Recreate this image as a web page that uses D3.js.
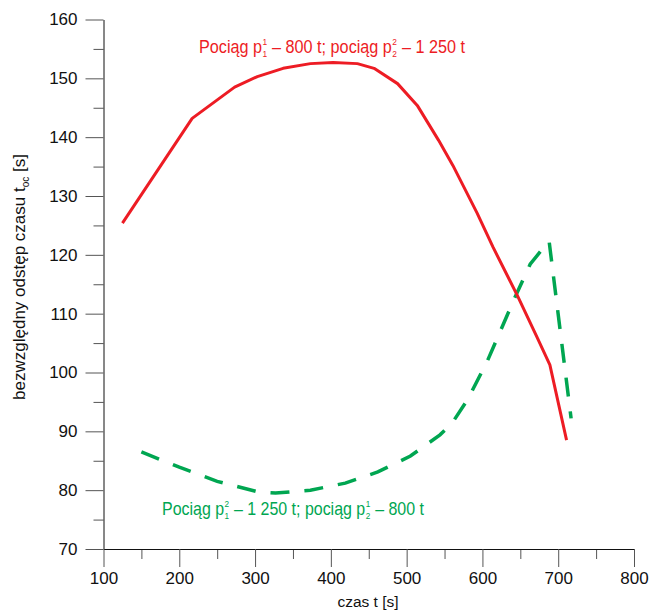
<!DOCTYPE html>
<html><head><meta charset="utf-8">
<script src="https://cdn.jsdelivr.net/npm/d3@7"></script>
<style>body{margin:0;background:#fff}svg{display:block}text{font-family:"Liberation Sans",Arial,sans-serif;white-space:pre}</style>
</head><body><svg id="c" width="652" height="612"></svg>
<script>
// data: [time t (s), absolute headway t_oc (s)]
const redTimes  = [125, 217, 273, 303, 337, 373, 403, 435, 457, 488, 514, 542, 561, 593, 614, 646, 672, 689, 711];
const redValues = [125.4, 143.2, 148.5, 150.3, 151.7, 152.5, 152.7, 152.5, 151.7, 149.1, 145.4, 139.5, 135.2, 127.1, 121.3, 113.1, 106.0, 101.3, 88.5];
const greenTimes  = [150, 200, 250, 304, 327, 373, 419, 462, 505, 544, 560, 580, 606, 643, 663, 678, 688, 717];
const greenValues = [86.5, 83.9, 81.5, 79.7, 79.5, 80.0, 81.2, 83.1, 85.8, 89.4, 91.4, 95.3, 101.8, 112.8, 118.4, 120.8, 122.3, 92.2];
const xTicks = [100, 200, 300, 400, 500, 600, 700, 800];
const yTicks = [70, 80, 90, 100, 110, 120, 130, 140, 150, 160];
const xMinor = [150, 250, 350, 450, 550, 650, 750];
const yMinor = [75, 85, 95, 105, 115, 125, 135, 145, 155];

const svg = d3.select("#c");
const x = d3.scaleLinear().domain([100, 800]).range([103.5, 634]);
const y = d3.scaleLinear().domain([70, 160]).range([549, 19.5]);
const RED = "#ed1c24", GREEN = "#00a651";

// minor ticks
svg.append("g").attr("transform", "translate(0,549)")
  .call(d3.axisBottom(x).tickValues(xMinor).tickSize(10).tickFormat("").tickSizeOuter(0))
  .call(g => g.select(".domain").remove())
  .call(g => g.selectAll("line").attr("stroke", "#555"));
svg.append("g").attr("transform", "translate(103.5,0)")
  .call(d3.axisLeft(y).tickValues(yMinor).tickSize(10).tickFormat("").tickSizeOuter(0))
  .call(g => g.select(".domain").remove())
  .call(g => g.selectAll("line").attr("stroke", "#555"));

// major axes
const gx = svg.append("g").attr("transform", "translate(0,549)")
  .call(d3.axisBottom(x).tickValues(xTicks).tickSize(18).tickSizeOuter(0).tickPadding(5));
gx.selectAll("text").attr("font-size", 17).attr("fill", "#111").attr("font-family", "Liberation Sans, Arial, sans-serif");
gx.selectAll("line").attr("stroke", "#555");
gx.select(".domain").attr("stroke", "#111");
const gy = svg.append("g").attr("transform", "translate(103.5,0)")
  .call(d3.axisLeft(y).tickValues(yTicks).tickSize(18).tickSizeOuter(0).tickPadding(8));
gy.selectAll("text").attr("font-size", 17).attr("fill", "#111").attr("font-family", "Liberation Sans, Arial, sans-serif");
gy.selectAll("line").attr("stroke", "#555");
gy.select(".domain").attr("stroke", "#111");

// axis titles
svg.append("text").attr("x", 368).attr("y", 607).attr("text-anchor", "middle")
  .attr("font-size", 15.5).attr("fill", "#111").text("czas t [s]");
const yt = svg.append("text").attr("transform", "translate(25,277) rotate(-90)")
  .attr("text-anchor", "middle").attr("font-size", 17).attr("fill", "#111");
yt.append("tspan").text("bezwzględny odstęp czasu t");
yt.append("tspan").attr("font-size", 10).attr("dy", 4).text("oc");
yt.append("tspan").attr("dy", -4).text(" [s]");

// lines
const line = d3.line().x(d => x(d[0])).y(d => y(d[1]));
svg.append("path").datum(greenTimes.map((t, i) => [t, greenValues[i]]))
  .attr("d", line).attr("fill", "none").attr("stroke", GREEN)
  .attr("stroke-width", 3.5).attr("stroke-dasharray", "19,15");
svg.append("path").datum(redTimes.map((t, i) => [t, redValues[i]]))
  .attr("d", line).attr("fill", "none").attr("stroke", RED)
  .attr("stroke-width", 3).attr("stroke-linejoin", "round");

// labels with stacked super/subscripts
function label(x0, yb, parts, color, targetW) {
  const g = svg.append("g");
  let cx = 0;
  parts.forEach(p => {
    if (typeof p === "string") {
      const t = g.append("text").attr("x", cx).attr("y", 0).attr("font-size", 17.5).attr("fill", color).text(p);
      cx += t.node().getComputedTextLength();
    } else {
      const a = g.append("text").attr("x", cx + 0.5).attr("y", -8).attr("font-size", 9).attr("fill", color).text(p[0]);
      const b = g.append("text").attr("x", cx + 0.5).attr("y", 4).attr("font-size", 9).attr("fill", color).text(p[1]);
      cx += Math.max(a.node().getComputedTextLength(), b.node().getComputedTextLength()) + 1;
    }
  });
  g.attr("transform", `translate(${x0},${yb}) scale(${targetW / cx},1)`);
}
label(199, 53, ["Pociąg p", ["1", "1"], "\u00a0– 800 t; pociąg p", ["2", "2"], "\u00a0– 1 250 t"], RED, 266);
label(162, 515, ["Pociąg p", ["2", "1"], "\u00a0– 1 250 t; pociąg p", ["1", "2"], "\u00a0– 800 t"], GREEN, 262);
</script></body></html>
